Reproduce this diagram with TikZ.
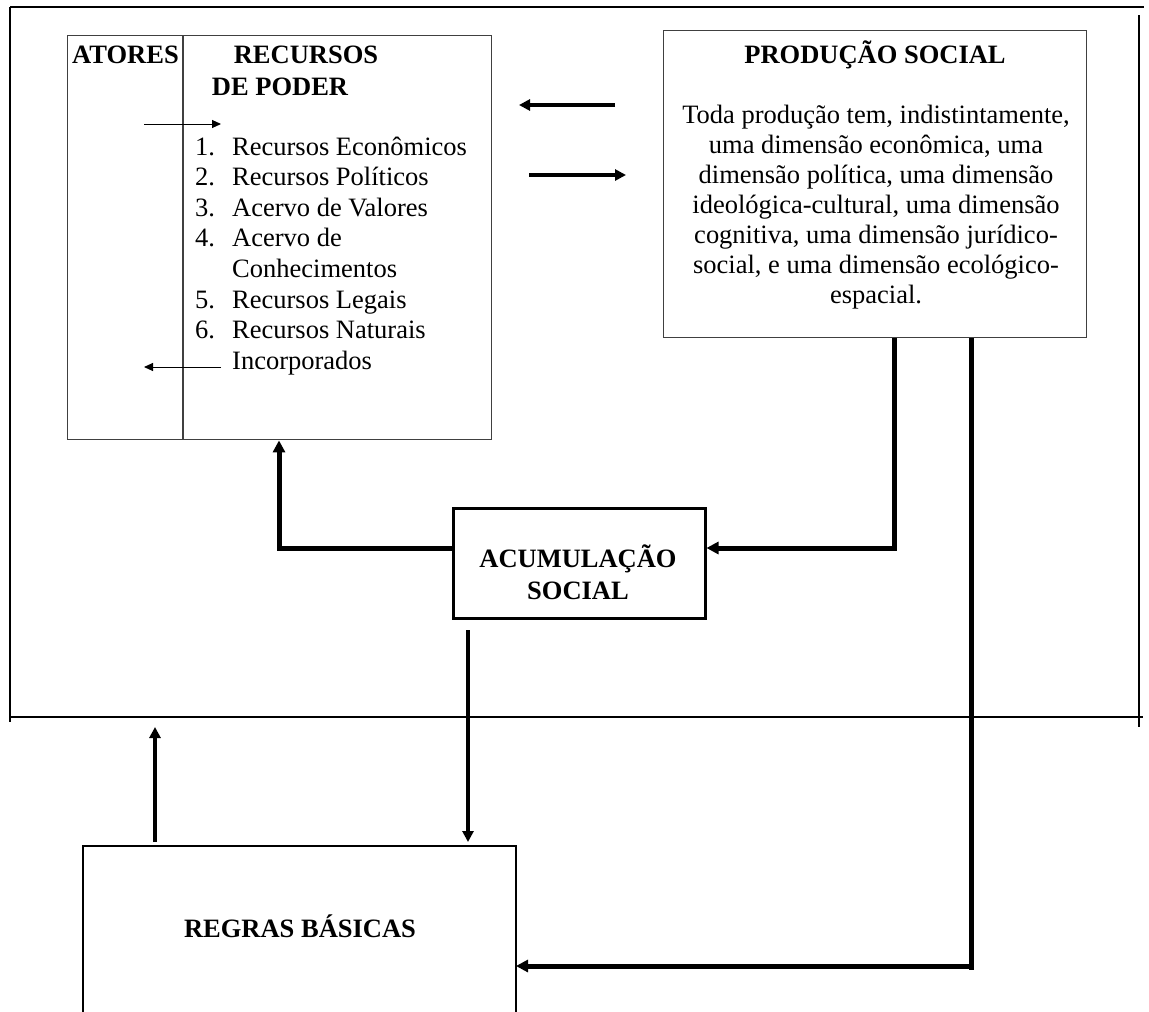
\documentclass[tikz,border=0pt]{standalone}
\usepackage{fontspec}
\setmainfont{Liberation Serif}
\usetikzlibrary{arrows.meta}
\tikzset{
  txt/.style={inner sep=0pt, font=\fontsize{26.5}{30}\selectfont},
  bld/.style={inner sep=0pt, font=\fontsize{26.5}{30}\selectfont\bfseries},
  framel/.style={line width=1.4pt, black},
  boxl/.style={draw=black!75, line width=1.4pt},
  thinarr/.style={line width=1pt, -{Triangle[length=9pt,width=8pt]}},
  medarr/.style={line width=4pt, -{Triangle[length=11pt,width=11pt]}},
  fatarr/.style={line width=5pt, -{Triangle[length=12pt,width=12pt]}},
  fatline/.style={line width=5pt},
}
\begin{document}
\begin{tikzpicture}[x=1pt,y=-1pt]
\useasboundingbox (0,0) rectangle (1149,1012);
% frame lines
\draw[framel] (10,7) -- (1144,7);
\draw[framel] (10,7) -- (10,722);
\draw[framel] (1139,15) -- (1139,727);
\draw[framel] (10,717) -- (1143,717);

% Recursos box
\node[boxl, anchor=north west, minimum width=424pt, minimum height=404pt, inner sep=0pt] (rec) at (67,35) {};
\coordinate (divt) at (183,35);
\coordinate (divb) at (183,439);
\draw[boxl] (divt) -- (divb);
\node[bld, anchor=base] (atores) at (125.5,63) {ATORES};
\node[bld, anchor=base] (rtit1) at (306,63) {RECURSOS};
\node[bld, anchor=base] (rtit2) at (280,95) {DE PODER};
\foreach \n/\t [count=\i from 0] in {1./Recursos Econômicos,2./Recursos Políticos,3./Acervo de Valores,4./Acervo de,/Conhecimentos,5./Recursos Legais,6./Recursos Naturais,/Incorporados}{
  \node[txt, anchor=base west] (num\i) at (195,155+30.6*\i) {\n};
  \node[txt, anchor=base west] (it\i) at (232,155+30.6*\i) {\t};
}
\coordinate (ta1) at (144,124);
\coordinate (ta2) at (221,124);
\coordinate (tb1) at (221,367);
\coordinate (tb2) at (144,367);
\draw[thinarr] (ta1) -- (ta2);
\draw[thinarr] (tb1) -- (tb2);

% Producao box
\node[boxl, anchor=north west, minimum width=423pt, minimum height=307pt, inner sep=0pt] (prod) at (663,30) {};
\node[bld, anchor=base] (ptit) at (875,63) {PRODUÇÃO SOCIAL};
\foreach \t [count=\i from 0] in {Toda produção tem{,} indistintamente{,},uma dimensão econômica{,} uma,dimensão política{,} uma dimensão,ideológica-cultural{,} uma dimensão,cognitiva{,} uma dimensão jurídico-,social{,} e uma dimensão ecológico-,espacial.}{
  \node[txt, anchor=base] (pl\i) at (876,123+30*\i) {\t};
}

% arrows between boxes
\coordinate (la1) at (615,105);
\coordinate (la2) at (519,105);
\coordinate (ra1) at (529,175);
\coordinate (ra2) at (626,175);
\draw[medarr] (la1) -- (la2);
\draw[medarr] (ra1) -- (ra2);

% Acumulacao box
\node[draw=black, line width=2.5pt, anchor=north west, minimum width=252pt, minimum height=110pt, inner sep=0pt] (acum) at (452,507) {};
\node[bld, anchor=base] (ac1) at (578,567) {ACUMULAÇÃO};
\node[bld, anchor=base] (ac2) at (578,599) {SOCIAL};

% Regras box (open at bottom)
\coordinate (rgtl) at (83,846);
\coordinate (rgtr) at (516,846);
\coordinate (rgbl) at (83,1012);
\coordinate (rgbr) at (516,1012);
\draw[line width=2pt, black] (rgbl) -- (rgtl) -- (rgtr) -- (rgbr);
\node[bld, anchor=base] (regras) at (300,937) {REGRAS BÁSICAS};

% connectors
\draw[fatarr] (prod.south west -| 894,0) -- (894,548) -- (acum.east |- 0,548);
\draw[fatarr] (acum.west |- 0,548) -- (279,548) -- (rec.south -| 279,0);
\coordinate (dn1) at (468,630);
\coordinate (dn2) at (468,842);
\draw[medarr] (dn1) -- (dn2);
\coordinate (up1) at (155,842);
\coordinate (up2) at (155,727);
\draw[medarr] (up1) -- (up2);
\draw[fatline] (prod.south west -| 971,0) -- (971,970);
\draw[fatarr] (973,966) -- (rgtr |- 0,966);
\end{tikzpicture}
\end{document}
